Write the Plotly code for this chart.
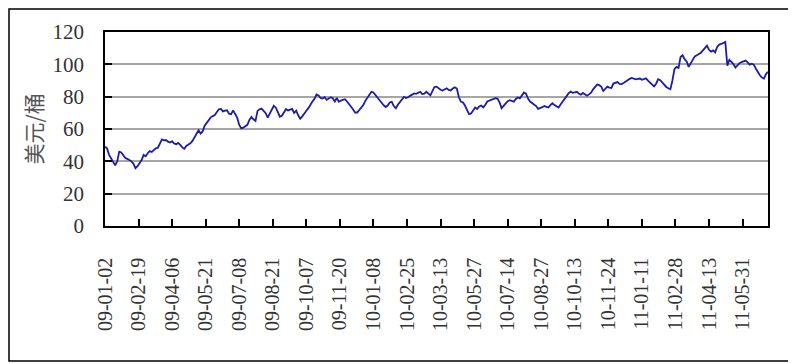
import plotly.graph_objects as go

price = [
    49, 48, 44, 42, 39.4, 37.5, 40, 46, 45.5, 43.5,
    42, 41.5, 41, 40, 38.5, 35.8, 37, 39.2, 40.8, 44,
    43.2, 45, 46.4, 45.8, 47, 48, 48.4, 51.6, 53.6, 53,
    53.2, 52.2, 51.6, 52.4, 51, 50.6, 51.4, 50.2, 48.6, 47.8,
    49.5, 50.4, 51.2, 52.6, 54.6, 57.4, 59.2, 57.2, 58.5, 62,
    63.9, 65.5, 67.2, 68, 68.6, 70.5, 72.2, 72.4, 70.9, 71.3,
    71.6, 69.5, 69.2, 71.5, 69.5, 67, 62.5, 60.4, 60.8, 61.8,
    62.6, 65.6, 67.4, 66, 65, 71.2, 72.2, 72.6, 71.3, 69.8,
    67, 69.6, 72.3, 74.4, 73.2, 70.5, 67.6, 68.2, 70.4, 72.3,
    71.5, 72.2, 72.4, 69.9, 71.3, 68.5, 66.4, 67.8, 69.9, 71.3,
    72.9, 75.2, 77, 78.6, 81.4, 80.8, 79.2, 78.8, 79.8, 78,
    79, 79.6, 79, 77, 79.2, 76.8, 77.6, 78.2, 78.4, 77,
    75.6, 73.8, 72, 70.2, 70.2, 71.8, 72.9, 74.8, 77.4, 79.3,
    81.2, 83, 82.6, 81, 79.2, 78.2, 76.4, 74.7, 73.6, 74.5,
    76.4, 76.8, 74.2, 72.8, 75, 76.9, 78.8, 79.9, 79.2, 79.6,
    80.5, 81.5, 82, 81.7, 82.3, 83, 81.6, 81.8, 83, 81.6,
    80.8, 83.4, 86, 86.2, 85, 84.3, 83.8, 84.6, 85.2, 84.2,
    83.8, 85, 85.8, 85, 79.6, 77, 76.4, 74.5, 71.5, 69.2,
    69.6, 71.8, 73.3, 72.4, 73.9, 74.5, 73.4, 75, 77, 77.6,
    78, 78.5, 79, 78.8, 76.5, 72.9, 74.4, 76.2, 77.2, 77.8,
    77.5, 76.9, 78.6, 79.5, 79, 81, 82.6, 81.9, 78.8, 77,
    76, 75.2, 74.2, 72.4, 72.8, 73.5, 74.2, 73.9, 73.3, 74.8,
    75.9, 74.8, 74, 73.3, 75.2, 76.9, 78.6, 80.8, 82.2, 83.1,
    82.4, 82.6, 83, 82, 81.2, 82.3, 81.6, 80.6, 81.4, 82.5,
    84.5, 86.2, 87.5, 87.2, 86.2, 83.5, 84.8, 86.2, 85.6, 85.4,
    88.1, 88.8, 89, 87.9, 87.8, 88.4, 89.4, 90.4, 91, 91.6,
    91.3, 90.7, 91, 91.2, 90.4, 90.8, 91.3, 89.9, 88.8, 87.6,
    86.4, 88, 90.8, 90.2, 88.6, 87.5, 86, 85.2, 84.6, 90,
    97, 98.4, 97.8, 104.5, 105.6, 103.2, 101.8, 98.4, 100.8, 103,
    104.9, 105.6, 106.3, 107.2, 108.6, 110, 111.6, 109, 107.8, 108.6,
    107.4, 110.8, 112.2, 112.6, 113.2, 113.9, 99.2, 102.8, 101.5, 100.2,
    98, 99.5, 100.7, 101.4, 101.8, 102.3, 101.2, 99.8, 100.4, 99.8,
    97.4, 94.8, 93.2, 91.8, 91.2, 94, 95.4,
]
day_step = 2  # trading days between samples
days = [i * day_step for i in range(len(price))]

tick_days = [0, 33, 66, 99, 132, 165, 198, 231, 264, 297,
             330, 363, 396, 429, 462, 495, 528, 561, 594, 627]
tick_labels = ["09-01-02", "09-02-19", "09-04-06", "09-05-21", "09-07-08",
               "09-08-21", "09-10-07", "09-11-20", "10-01-08", "10-02-25",
               "10-03-13", "10-05-27", "10-07-14", "10-08-27", "10-10-13",
               "10-11-24", "11-01-11", "11-02-28", "11-04-13", "11-05-31"]
y_ticks = [0, 20, 40, 60, 80, 100, 120]

serif = "Liberation Serif, Noto Sans CJK SC, serif"

# page body has an 8px margin; figure sized so that it fills the window
W, H = 788, 356
L, R, T, B = 97, 28, 24, 138
pw, ph = W - L - R, H - T - B

fig = go.Figure()
fig.add_trace(go.Scatter(
    x=days, y=price, mode="lines",
    line=dict(color="#1c1ca8", width=1.8),
    showlegend=False, hoverinfo="skip",
))

fig.update_layout(
    width=W, height=H,
    margin=dict(l=L, r=R, t=T, b=B, autoexpand=False),
    paper_bgcolor="white", plot_bgcolor="white",
    font=dict(family=serif, color="#333333"),
    xaxis=dict(
        range=[0, 652], automargin=False,
        tickmode="array", tickvals=tick_days, ticktext=tick_labels,
        tickangle=-90, tickfont=dict(size=20, family=serif, color="#333333"),
        ticks="inside", ticklen=7, tickcolor="black", tickwidth=1.5,
        ticklabelstandoff=22,
        showline=True, linecolor="black", linewidth=1.5, mirror=True,
        showgrid=False, zeroline=False,
    ),
    yaxis=dict(
        range=[0, 120], automargin=False,
        tickmode="array", tickvals=y_ticks,
        tickfont=dict(size=21, family=serif, color="#333333"),
        ticks="inside", ticklen=7, tickcolor="black", tickwidth=1.5,
        ticklabelstandoff=15,
        showline=True, linecolor="black", linewidth=1.5, mirror=True,
        showgrid=True, gridcolor="#a6a6a6", gridwidth=1.5,
        zeroline=False,
        title=dict(text="美元/桶", font=dict(size=21, family="Noto Sans CJK SC, sans-serif", color="#555555"), standoff=4),
    ),
    shapes=[dict(
        type="rect", xref="paper", yref="paper",
        x0=(1 - L) / pw, x1=(W - 3 - L) / pw,
        y0=-(H - 3 - (T + ph)) / ph, y1=1 + (T - 1) / ph,
        line=dict(color="black", width=1.5), fillcolor="rgba(0,0,0,0)",
        layer="below",
    )],
)

fig.write_html("out.html")
